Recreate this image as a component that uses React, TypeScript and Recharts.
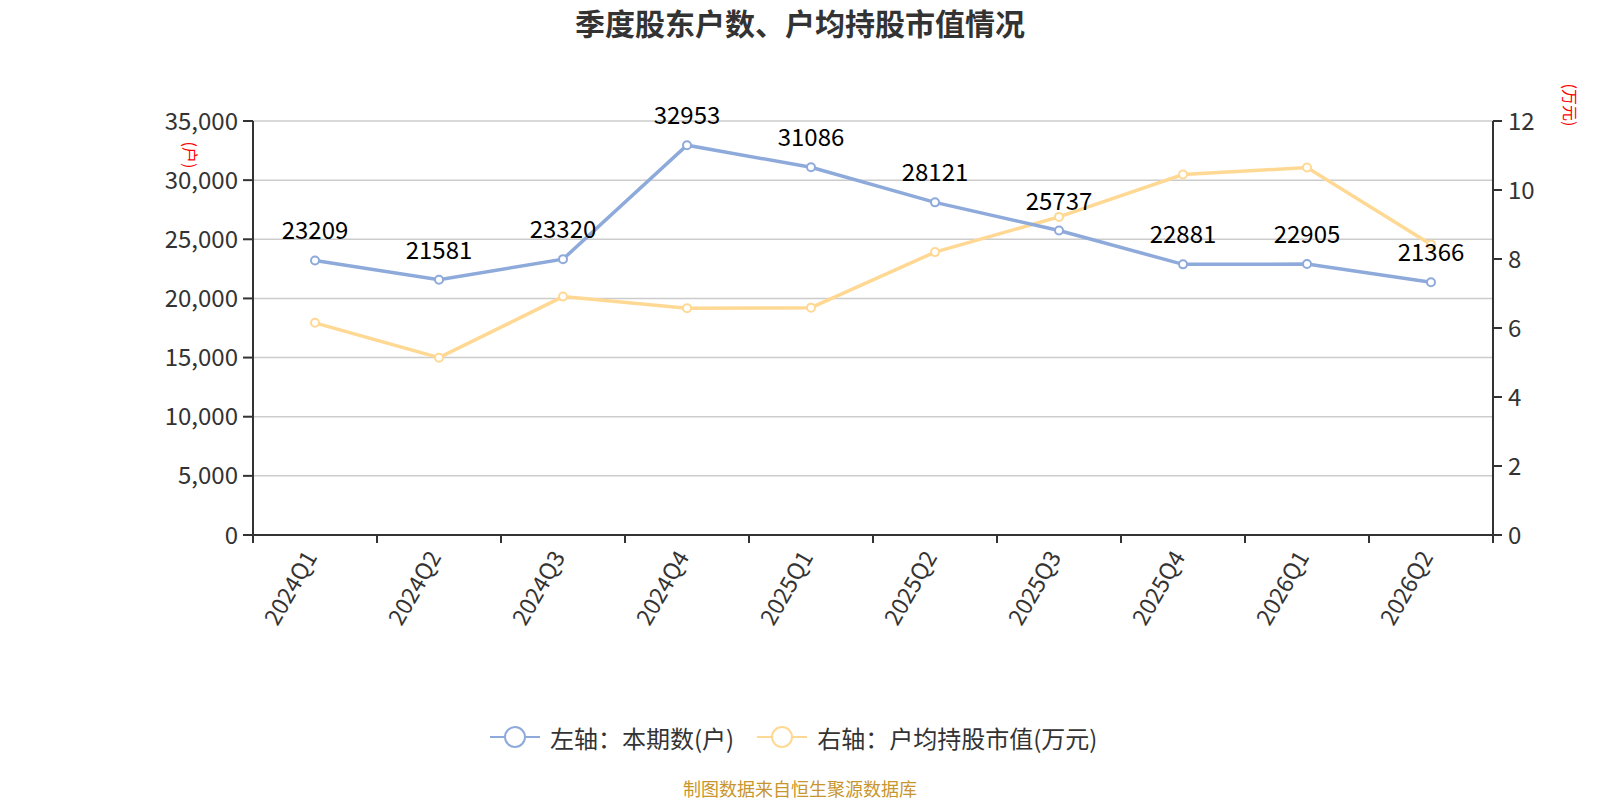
import React from 'react';
import { LineChart, Line, XAxis, YAxis, CartesianGrid, LabelList } from 'recharts';

const categories = ['2024Q1', '2024Q2', '2024Q3', '2024Q4', '2025Q1', '2025Q2', '2025Q3', '2025Q4', '2026Q1', '2026Q2'];
const holders = [23209, 21581, 23320, 32953, 31086, 28121, 25737, 22881, 22905, 21366];
const avgValue = [6.15, 5.14, 6.91, 6.57, 6.59, 8.2, 9.22, 10.45, 10.65, 8.42];
const leftTicks = [0, 5000, 10000, 15000, 20000, 25000, 30000, 35000];
const rightTicks = [0, 2, 4, 6, 8, 10, 12];

const title = '季度股东户数、户均持股市值情况';
const leftName = '左轴：本期数(户)';
const rightName = '右轴：户均持股市值(万元)';
const leftUnit = '(户)';
const rightUnit = '(万元)';
const footer = '制图数据来自恒生聚源数据库';

const BLUE = '#8EAADB';
const YELLOW = '#FFD994';
const FONT = '"Noto Sans CJK SC", "Noto Sans", sans-serif';

const data = categories.map((c, i) => ({ name: c, holders: holders[i], avg: avgValue[i] }));

const PLOT_LEFT = 253;
const PLOT_RIGHT = 1493;
const BAND = (PLOT_RIGHT - PLOT_LEFT) / categories.length;

const XTick = (props: any) => {
  const { x, y, payload, index } = props;
  const axisY = y - 8;
  const lx = x - BAND / 2;
  const tx = x + 3;
  const ty = axisY + 22;
  return (
    <g>
      <line x1={lx} x2={lx} y1={axisY} y2={axisY + 8} stroke="#333" strokeWidth={2} />
      {index === categories.length - 1 && (
        <line x1={x + BAND / 2} x2={x + BAND / 2} y1={axisY} y2={axisY + 8} stroke="#333" strokeWidth={2} />
      )}
      <text
        x={tx}
        y={ty}
        textAnchor="end"
        transform={`rotate(-60, ${tx}, ${ty})`}
        fontSize={23}
        fill="#333"
        fontFamily={FONT}
      >
        {payload.value}
      </text>
    </g>
  );
};

const LegendIcon = ({ color }: { color: string }) => (
  <svg width={50} height={26} style={{ display: 'block' }}>
    <line x1={0} x2={50} y1={13} y2={13} stroke={color} strokeWidth={2} />
    <circle cx={25} cy={13} r={10} fill="#fff" stroke={color} strokeWidth={2} />
  </svg>
);

export default function App() {
  return (
    <div style={{ position: 'absolute', left: 0, top: 0, width: 1600, height: 800, overflow: 'hidden', background: '#fff', fontFamily: FONT }}>
      <div style={{ position: 'absolute', left: 0, top: 4, width: 1600, textAlign: 'center', fontSize: 30, fontWeight: 'bold', color: '#333', lineHeight: '36px' }}>
        {title}
      </div>
      <LineChart
        width={1600}
        height={800}
        data={data}
        margin={{ top: 121, right: 0, bottom: 145, left: 0 }}
        style={{ position: 'absolute', left: 0, top: 0 }}
      >
        <CartesianGrid yAxisId="left" vertical={false} stroke="#ccc" strokeWidth={1.5} />
        <XAxis
          dataKey="name"
          height={120}
          interval={0}
          padding={{ left: BAND / 2, right: BAND / 2 }}
          tickLine={false}
          tickSize={8}
          tickMargin={0}
          tick={<XTick />}
          axisLine={{ stroke: '#333', strokeWidth: 2 }}
        />
        <YAxis
          yAxisId="left"
          width={253}
          domain={[0, 35000]}
          ticks={leftTicks}
          interval={0}
          tickFormatter={(v: number) => v.toLocaleString('en-US')}
          tick={{ fontSize: 24, fill: '#333', fontFamily: FONT }}
          tickSize={10}
          tickMargin={5}
          tickLine={{ stroke: '#333', strokeWidth: 2 }}
          axisLine={{ stroke: '#333', strokeWidth: 2 }}
        />
        <YAxis
          yAxisId="right"
          orientation="right"
          width={107}
          domain={[0, 12]}
          ticks={rightTicks}
          interval={0}
          tick={{ fontSize: 24, fill: '#333', fontFamily: FONT, textAnchor: 'start' }}
          tickSize={9}
          tickMargin={6}
          tickLine={{ stroke: '#333', strokeWidth: 2 }}
          axisLine={{ stroke: '#333', strokeWidth: 2 }}
        />
        <Line
          yAxisId="right"
          type="linear"
          dataKey="avg"
          stroke={YELLOW}
          strokeWidth={3.5}
          dot={{ r: 4, fill: '#fff', stroke: YELLOW, strokeWidth: 2 }}
          isAnimationActive={false}
        />
        <Line
          yAxisId="left"
          type="linear"
          dataKey="holders"
          stroke={BLUE}
          strokeWidth={3.5}
          dot={{ r: 4, fill: '#fff', stroke: BLUE, strokeWidth: 2 }}
          isAnimationActive={false}
        >
          <LabelList dataKey="holders" position="top" offset={21} style={{ fontSize: 24, fill: '#000', fontFamily: FONT }} />
        </Line>
      </LineChart>
      <div style={{ position: 'absolute', left: 191, top: 155, transform: 'translate(-50%, -50%) rotate(90deg)', color: 'red', fontSize: 16, whiteSpace: 'nowrap', lineHeight: '18px' }}>
        {leftUnit}
      </div>
      <div style={{ position: 'absolute', left: 1571, top: 105, transform: 'translate(-50%, -50%) rotate(90deg)', color: 'red', fontSize: 16, whiteSpace: 'nowrap', lineHeight: '18px' }}>
        {rightUnit}
      </div>
      <div style={{ position: 'absolute', left: 490, top: 724, display: 'flex', alignItems: 'center', height: 26, fontSize: 24, color: '#333', whiteSpace: 'nowrap' }}>
        <LegendIcon color={BLUE} />
        <span style={{ marginLeft: 10 }}>{leftName}</span>
        <span style={{ width: 23 }} />
        <LegendIcon color={YELLOW} />
        <span style={{ marginLeft: 10 }}>{rightName}</span>
      </div>
      <div style={{ position: 'absolute', left: 0, top: 778, width: 1600, textAlign: 'center', fontSize: 18, color: '#C8962E', lineHeight: '20px' }}>
        {footer}
      </div>
    </div>
  );
}
